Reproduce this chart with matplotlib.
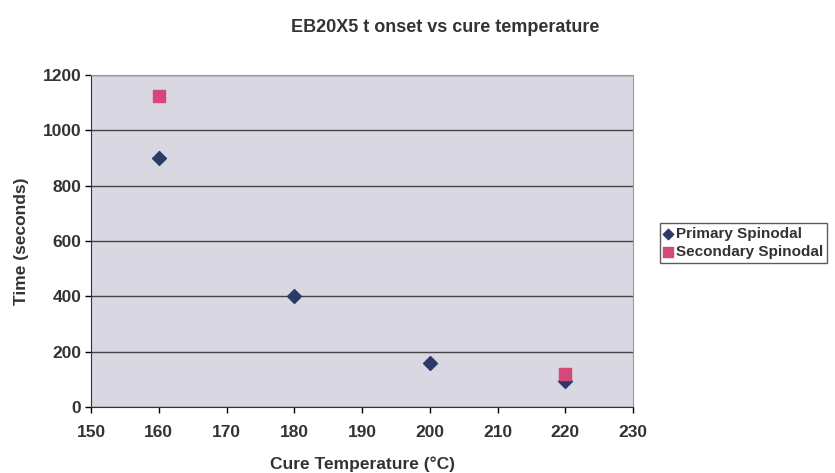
import matplotlib
matplotlib.use("Agg")
import matplotlib.pyplot as plt

plt.rcParams['font.family'] = ['Liberation Sans', 'DejaVu Sans']

primary_x = [160, 180, 200, 220]
primary_y = [900, 400, 160, 95]
secondary_x = [160, 220]
secondary_y = [1125, 120]
x_ticks = [150, 160, 170, 180, 190, 200, 210, 220, 230]
y_ticks = [0, 200, 400, 600, 800, 1000, 1200]

fig = plt.figure(figsize=(8.35, 4.73), dpi=100)
ax = fig.add_axes([91/835, 1-407/473, (633-91)/835, (407-75)/473])
ax.set_facecolor('#d9d7e1')

ax.scatter(primary_x, primary_y, marker='D', s=50, color='#2b3a67', zorder=3, label='Primary Spinodal')
ax.scatter(secondary_x, secondary_y, marker='s', s=80, color='#d4487a', zorder=3, label='Secondary Spinodal')

ax.set_xlim(150, 230)
ax.set_ylim(0, 1200)
ax.set_xticks(x_ticks)
ax.set_yticks(y_ticks)
ax.yaxis.grid(True, color='#444444', linewidth=1)
ax.set_axisbelow(True)
for s in ['top', 'right']:
    ax.spines[s].set_color('#9a9a9a')
for s in ['left', 'bottom']:
    ax.spines[s].set_color('#333333')
ax.tick_params(direction='out', length=4, labelsize=12.5, width=1)
ax.tick_params(axis='x', pad=9)
ax.tick_params(axis='y', pad=3)
for lbl in ax.get_xticklabels() + ax.get_yticklabels():
    lbl.set_fontweight('bold')
    lbl.set_color('#333333')

ax.set_xlabel('Cure Temperature (°C)', fontsize=12.5, fontweight='bold', color='#333333', labelpad=12)
ax.set_ylabel('Time (seconds)', fontsize=12.5, fontweight='bold', color='#333333', labelpad=10)
fig.text(445/835, 1-27/473, 'EB20X5 t onset vs cure temperature', ha='center', va='center',
         fontsize=13, fontweight='bold', color='#333333')

leg = fig.legend(loc='center left', bbox_to_anchor=(660/835, 1-243/473), frameon=True,
                 fancybox=False, edgecolor='#333333', handlelength=0.5, handletextpad=0.3,
                 borderpad=0.25, labelspacing=0.25, borderaxespad=0,
                 prop={'weight': 'bold', 'size': 11}, markerscale=0.75)
for t in leg.get_texts():
    t.set_color('#333333')

fig.savefig('out.png', dpi=100)
